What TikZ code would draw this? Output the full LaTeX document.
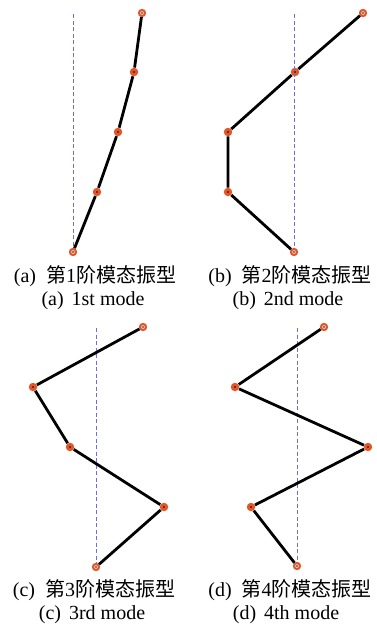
\documentclass[tikz,border=0pt]{standalone}
\usepackage{fontspec}
\setmainfont{Liberation Serif}
\newfontfamily\cjk{Noto Sans CJK SC}
\definecolor{dotorange}{HTML}{E2572A}
\definecolor{axisblue}{HTML}{6E6ED8}
\begin{document}
\begin{tikzpicture}[
  x=1pt, y=-1pt,
  joint/.style={circle, fill=dotorange, inner sep=0pt, minimum size=8.5pt,
    path picture={\fill[black] (path picture bounding box.center) circle (0.9pt);}},
  endjoint/.style={circle, draw=dotorange, fill=white, line width=2.2pt, inner sep=0pt, minimum size=6pt,
    path picture={\fill[black] (path picture bounding box.center) circle (0.8pt);}},
  modeline/.style={draw, line width=2.8pt},
  axisline/.style={draw=axisblue, dash pattern=on 4pt off 2.5pt, line width=0.9pt},
  caption/.style={font=\fontsize{20}{22}\selectfont, anchor=base, inner sep=0pt}
]
\useasboundingbox (0,0) rectangle (377,625);

\foreach \i/\x/\y/\s in {1/142/13/endjoint, 2/134/72/joint, 3/118/132/joint, 4/97/192/joint, 5/73/252/endjoint}
  \node[\s] (a\i) at (\x,\y) {};
\foreach \i/\x/\y/\s in {1/363/13/endjoint, 2/295/72/joint, 3/228/132/joint, 4/228/192/joint, 5/294/252/endjoint}
  \node[\s] (b\i) at (\x,\y) {};
\foreach \i/\x/\y/\s in {1/143/327/endjoint, 2/33/387/joint, 3/70/447/joint, 4/164/507/joint, 5/96/567/endjoint}
  \node[\s] (c\i) at (\x,\y) {};
\foreach \i/\x/\y/\s in {1/324/327/endjoint, 2/235/387/joint, 3/368/447/joint, 4/251/507/joint, 5/297/566/endjoint}
  \node[\s] (d\i) at (\x,\y) {};

\coordinate (atop) at (73,14);
\coordinate (btop) at (294,14);
\coordinate (ctop) at (96,328);
\coordinate (dtop) at (297,328);

\foreach \p in {a,b,c,d} {
  \draw[axisline] (\p top) -- (\p5);
  \draw[modeline] (\p1) -- (\p2) -- (\p3) -- (\p4) -- (\p5);
}

\node[caption] (capa) at (95,282) {(a)\hspace{0.5em}{\cjk 第}1{\cjk 阶模态振型}};
\node[caption] (moda) at (93,305) {(a)\hspace{0.4em}1st mode};
\node[caption] (capb) at (290,282) {(b)\hspace{0.5em}{\cjk 第}2{\cjk 阶模态振型}};
\node[caption] (modb) at (288,305) {(b)\hspace{0.4em}2nd mode};
\node[caption] (capc) at (94,596) {(c)\hspace{0.5em}{\cjk 第}3{\cjk 阶模态振型}};
\node[caption] (modc) at (92,619) {(c)\hspace{0.4em}3rd mode};
\node[caption] (capd) at (290,596) {(d)\hspace{0.5em}{\cjk 第}4{\cjk 阶模态振型}};
\node[caption] (modd) at (286,619) {(d)\hspace{0.4em}4th mode};
\end{tikzpicture}
\end{document}
